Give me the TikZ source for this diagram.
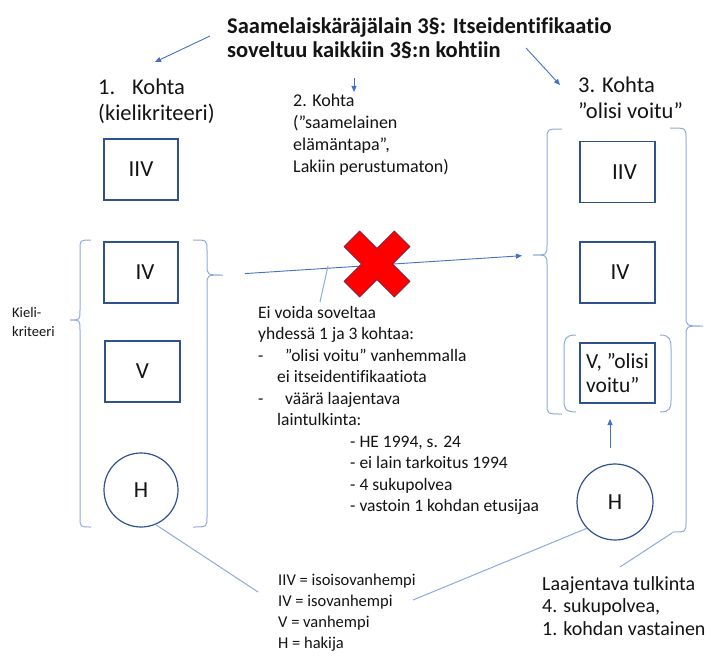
\documentclass[tikz,border=0pt]{standalone}
\usepackage{fontspec}
\setmainfont{Carlito}[Ligatures=NoCommon]
\usetikzlibrary{arrows.meta}
\definecolor{arrc}{RGB}{68,114,196}
\definecolor{linec}{RGB}{143,170,220}
\definecolor{boxc}{RGB}{47,82,143}
\definecolor{xred}{RGB}{255,0,0}
\definecolor{xedge}{RGB}{110,40,80}
\definecolor{txtc}{RGB}{20,20,20}
\tikzset{
  arr/.style={draw=arrc, line width=0.9pt, -{Triangle[length=6pt,width=5pt]}},
  connline/.style={draw=linec, line width=1pt},
  bracec/.style={draw=linec, line width=1pt},
  gbox/.style={draw=boxc, line width=1.2pt, minimum width=74pt, minimum height=61pt, inner sep=0pt, text=txtc, font=\fontsize{23}{25}\selectfont},
  gcirc/.style={circle, draw=boxc, line width=1.2pt, minimum size=74pt, inner sep=0pt, text=txtc, font=\fontsize{23}{25}\selectfont},
  txt/.style={anchor=north west, inner sep=0pt, align=left, text=txtc},
}
\begin{document}
\begin{tikzpicture}[x=1pt,y=-1pt]
\useasboundingbox (0,0) rectangle (708,658);
\fill[white] (0,0) rectangle (708,658);

% Title and headings
\node[txt, font=\bfseries\fontsize{22.5}{23.5}\selectfont] (title) at (227,18) {Saamelaiskäräjälain 3§: Itseidentifikaatio\\soveltuu kaikkiin 3§:n kohtiin};
\node[txt, font=\fontsize{22.5}{26}\selectfont] (k1) at (98,79) {\makebox[34pt][l]{1.}Kohta\\(kielikriteeri)};
\node[txt, font=\fontsize{18}{22}\selectfont] (k2) at (293,94) {2. Kohta\\(”saamelainen\\elämäntapa”,\\Lakiin perustumaton)};
\node[txt, font=\fontsize{22.5}{26}\selectfont] (k3) at (578,77) {3. Kohta\\”olisi voitu”};
\node[txt, font=\fontsize{14.5}{19}\selectfont] (kieli) at (12,307) {Kieli-\\kriteeri};

% arrows from title
\coordinate (t1) at (210,36);
\coordinate (t1e) at (155,62);
\coordinate (t2) at (354,78);
\coordinate (t2e) at (354,92);
\coordinate (t3) at (526,48);
\coordinate (t3e) at (560,85);
\draw[arr] (t1) -- (t1e);
\draw[arr] (t2) -- (t2e);
\draw[arr] (t3) -- (t3e);

% Left column
\node[gbox] (liiv) at (141,169.5) {IIV};
\node[gbox] (liv) at (141,272.5) {\hspace*{8pt}IV};
\node[gbox, minimum width=75pt] (lv) at (142.5,371.5) {V};
\node[gcirc] (lh) at (141,490) {H};

% left column braces
\draw[bracec] (91,240) .. controls (80,240) and (80,240) .. (80,250) -- (80,310)
  .. controls (80,320) and (80,320) .. (70,320) .. controls (80,320) and (80,320) .. (80,330)
  -- (80,517) .. controls (80,527) and (80,527) .. (91,527);
\draw[bracec] (193,240) .. controls (207,240) and (207,240) .. (207,250) -- (207,265)
  .. controls (207,275) and (207,275) .. (223,275) .. controls (207,275) and (207,275) .. (207,285)
  -- (207,517) .. controls (207,527) and (207,527) .. (193,527);
\coordinate (lbtip) at (223,275);

% Right column
\node[gbox, minimum width=75pt] (riiv) at (617.5,172) {\hspace*{14pt}IIV};
\node[gbox, minimum width=75pt] (riv) at (617.5,272.5) {\hspace*{5pt}IV};
\node[gbox, minimum width=75pt, minimum height=60pt, align=left, font=\fontsize{21.5}{24}\selectfont] (rv) at (617.5,373) {V, ”olisi\\voitu”};
\node[gcirc, minimum size=76pt] (rh) at (615,502) {H};

% right column braces
\draw[bracec] (562,129) .. controls (547,129) and (547,129) .. (547,139) -- (547,245)
  .. controls (547,255) and (547,255) .. (533,255) .. controls (547,255) and (547,255) .. (547,265)
  -- (547,404) .. controls (547,414) and (547,414) .. (562,414);
\coordinate (rbtip) at (533,255);
\draw[bracec] (670,128) .. controls (686,128) and (686,128) .. (686,138) -- (686,316)
  .. controls (686,326) and (686,326) .. (703,326) .. controls (686,326) and (686,326) .. (686,336)
  -- (686,522) .. controls (686,532) and (686,532) .. (672,532);
\coordinate (rbbot) at (672,533);
% parentheses around V
\draw[bracec] (576,335) .. controls (565,335) and (564,340) .. (564,348) -- (564,400)
  .. controls (564,408) and (565,412) .. (576,412);
\draw[bracec] (660,335) .. controls (670,335) and (671,340) .. (671,348) -- (671,400)
  .. controls (671,408) and (670,412) .. (660,412);

% main arrow from left bracket to right bracket
\draw[arr, shorten <=22pt, shorten >=11pt] (lbtip) -- (rbtip);

% red cross
\filldraw[fill=xred, draw=xedge, line width=0.6pt, shift={(377,264)}]
  (15.6,0) -- (33,17.4) -- (17.4,33) -- (0,15.6) -- (-17.4,33) -- (-33,17.4)
  -- (-15.6,0) -- (-33,-17.4) -- (-17.4,-33) -- (0,-15.6) -- (17.4,-33) -- (33,-17.4) -- cycle;
\coordinate (xc) at (377,264);

% middle text
\node[txt, font=\fontsize{17.5}{21.5}\selectfont] (mid) at (258,306) {Ei voida soveltaa\\
yhdessä 1 ja 3 kohtaa:\\
\makebox[27pt][l]{-}”olisi voitu” vanhemmalla\\
\hspace*{19pt}ei itseidentifikaatiota\\
\makebox[27pt][l]{-}väärä laajentava\\
\hspace*{19pt}laintulkinta:\\
\hspace*{92pt}- HE 1994, s. 24\\
\hspace*{92pt}- ei lain tarkoitus 1994\\
\hspace*{92pt}- 4 sukupolvea\\
\hspace*{92pt}- vastoin 1 kohdan etusijaa};
\coordinate (c1) at (320,302);
\coordinate (c2) at (328,266);
\draw[connline] (c1) -- (c2);

% arrow up from right H
\coordinate (ua) at (610,448);
\coordinate (ub) at (610,419);
\draw[arr] (ua) -- (ub);

% legend
\node[txt, font=\fontsize{16.5}{21}\selectfont] (leg) at (278,574) {IIV = isoisovanhempi\\IV = isovanhempi\\V = vanhempi\\H = hakija};
\coordinate (lg1) at (258,592);
\coordinate (lg2) at (413,600);
\draw[connline] (lh.-67) -- (lg1);
\draw[connline] (rh.-137) -- (lg2);

% bottom right text
\node[txt, font=\fontsize{20}{22.5}\selectfont] (br) at (542,576) {Laajentava tulkinta\\4. sukupolvea,\\1. kohdan vastainen};
\coordinate (brc) at (620,567);
\draw[connline] (rbbot) -- (brc);
\end{tikzpicture}
\end{document}
